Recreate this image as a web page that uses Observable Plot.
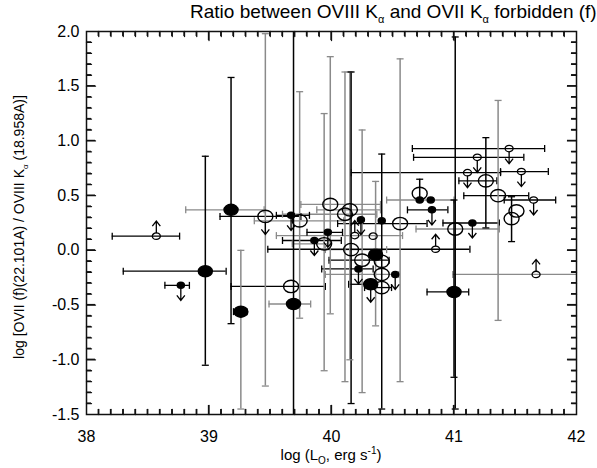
<!DOCTYPE html>
<html><head><meta charset="utf-8">
<script src="https://cdn.jsdelivr.net/npm/d3@7"></script>
<script src="https://cdn.jsdelivr.net/npm/@observablehq/plot@0.6"></script>
<style>
body{margin:0;background:#fff;font-family:"Liberation Sans",Arial,sans-serif;}
#wrap{position:relative;width:597px;height:468px;}
#title{position:absolute;top:1px;left:190px;text-align:left;font-size:19px;line-height:22px;white-space:nowrap;}
#title sub{font-size:11px;line-height:0;}
#ylab{position:absolute;left:19px;top:227px;transform:translate(-50%,-50%) rotate(-90deg);font-size:14px;white-space:nowrap;}
#ylab sub{font-size:8px;line-height:0;}
#xlab{position:absolute;left:331px;top:446px;transform:translateX(-50%);font-size:15px;white-space:nowrap;}
#xlab sub,#xlab sup{font-size:10px;line-height:0;}
</style></head><body>
<div id="wrap">
<div id="chart"></div>
<div id="title">Ratio between OVIII K<sub>α</sub> and OVII K<sub>α</sub> forbidden (f)</div>
<div id="ylab">log [OVII (f)(22.101A) / OVIII K<sub>α</sub> (18.958A)]</div>
<div id="xlab">log (L<sub>O</sub>, erg s<sup>-1</sup>)</div>
</div>
<script>
// x = log L_O, y = log ratio
const xs   = [38.57,39.18,38.97,38.77,39.26,39.46,39.67,39.74,39.99,40.15,40.11,40.24,40.41,40.56,40.19,39.97,39.86,39.94,40.34,40.16,40.25,40.36,40.41,40.22,40.41,40.41,40.52,40.32,39.67,39.69,41.00,40.85,41.67,41.45,41.19,41.11,41.55,41.65,41.26,41.36,41.51,41.47,40.72,40.72,40.81,40.82,41.15,41.01];
const ys   = [0.13,0.37,-0.19,-0.32,-0.56,0.31,0.32,0.27,0.42,0.37,0.33,0.28,0.27,0.245,0.135,0.165,0.09,0.06,0.13,0.007,-0.09,-0.04,-0.10,-0.17,-0.22,-0.34,-0.22,-0.31,-0.33,-0.49,-0.38,0.01,-0.22,0.93,0.85,0.71,0.72,0.46,0.635,0.50,0.36,0.29,0.52,0.46,0.46,0.37,0.25,0.195];
// O big open, F big filled, o small open, f small filled
const kinds = ["o","F","F","f","F","O","f","O","O","O","O","f","f","O","o","f","f","O","o","O","O","F","O","f","O","O","f","F","O","F","F","o","o","o","o","o","o","o","O","O","O","O","O","f","f","f","f","O"];
// limit arrows: u = lower limit (arrow up), d = upper limit (arrow down)
const limits = ["u","","","d","","d","d","","","","","d","","","u","d","d","","","","","","","d","","","d","d","","","","u","u","d","d","d","d","d","","","","","","","","d","d",""];
const xLo = [38.21,38.81,38.30,38.64,39.20,39.09,39.55,39.37,39.75,39.88,39.60,null,null,40.05,39.55,39.80,39.60,39.68,null,39.95,39.98,null,null,39.92,39.95,40.27,null,40.14,39.18,39.49,40.78,39.48,40.99,40.66,40.67,40.16,41.38,41.41,41.04,41.08,null,null,null,40.45,null,40.62,40.91,40.69];
const xHi = [38.76,39.45,39.14,38.84,39.31,39.75,39.82,40.10,40.40,40.40,40.37,null,null,40.78,40.58,40.09,40.08,39.97,null,40.45,40.47,null,null,40.34,40.55,40.49,null,40.35,39.95,39.83,41.12,41.13,42.30,41.74,41.57,41.38,41.77,41.83,41.35,41.61,null,null,null,41.00,null,40.95,41.37,41.37];
const hCol = ["k","g","k","k","k","k","k","g","g","g","g","k","k","k","g","k","k","g","k","g","k","k","k","k","g","k","k","k","k","g","k","k","g","k","k","k","k","k","k","k","k","k","k","g","k","k","k","g"];
const yLo = [null,-0.67,-1.05,null,-1.45,-1.24,null,-0.62,-0.58,-1.00,-1.20,null,null,-1.20,null,null,null,-1.10,null,-1.40,-1.30,-0.69,-1.45,null,null,null,null,null,null,-1.70,-1.16,null,null,null,null,null,null,null,0.205,-0.64,null,0.08,0.45,null,null,null,null,-1.45];
const yHi = [null,1.58,0.86,null,0.00,1.98,null,1.45,1.77,1.63,1.63,null,null,1.75,null,null,null,1.25,null,1.63,1.10,0.63,0.88,null,null,null,null,null,null,2.10,0.46,null,null,null,null,null,null,null,1.03,1.37,null,0.49,0.65,null,null,null,null,1.95];
const vCol = ["k","k","k","k","g","g","k","g","g","g","g","k","k","g","k","k","k","g","k","k","g","g","k","k","k","k","k","k","g","k","k","k","k","k","k","k","k","k","k","g","k","k","k","k","k","k","k","k"];
const xTicks = [38,39,40,41,42];
const yTicks = [-1.5,-1.0,-0.5,0.0,0.5,1.0,1.5,2.0];

const X0=38, X1=42, Y0=-1.5, Y1=2.0;
const pts = xs.map((x,i)=>({x, y:ys[i], kind:kinds[i], lim:limits[i], xlo:xLo[i], xhi:xHi[i], hc:hCol[i], ylo:yLo[i], yhi:yHi[i], vc:vCol[i]}));
const col = c => c==="g" ? "#8a8a8a" : "#000";
const inX = v => v>=X0 && v<=X1, inY = v => v>=Y0 && v<=Y1;
const hb = pts.filter(d=>d.xlo!=null).map(d=>({...d, a:Math.max(X0,d.xlo), b:Math.min(X1,d.xhi)}));
const vb = pts.filter(d=>d.ylo!=null).map(d=>({...d, a:Math.max(Y0,d.ylo), b:Math.min(Y1,d.yhi)}));
const hCaps = hb.flatMap(d=>[{x:d.xlo,y:d.y,c:d.hc},{x:d.xhi,y:d.y,c:d.hc}]).filter(d=>inX(d.x));
const vCaps = vb.flatMap(d=>[{x:d.x,y:d.ylo,c:d.vc},{x:d.x,y:d.yhi,c:d.vc}]).filter(d=>inY(d.y));

function ell(rx, ry){ const k=0.5523; return {draw(c){ c.moveTo(rx,0); c.bezierCurveTo(rx,ry*k,rx*k,ry,0,ry); c.bezierCurveTo(-rx*k,ry,-rx,ry*k,-rx,0); c.bezierCurveTo(-rx,-ry*k,-rx*k,-ry,0,-ry); c.bezierCurveTo(rx*k,-ry,rx,-ry*k,rx,0); c.closePath(); }}; }
function arrow(s0, s1){ const d = s1>0?1:-1; return {draw(c){ c.moveTo(0,s0); c.lineTo(0,s1); c.moveTo(-4,s1-5*d); c.lineTo(0,s1); c.lineTo(4,s1-5*d); }}; }
const capV = {draw(c){ c.moveTo(0,-3.5); c.lineTo(0,3.5); }};
const capH = {draw(c){ c.moveTo(-3.5,0); c.lineTo(3.5,0); }};

// inward ticks on all four sides (minor every 0.1, major at labelled values); lengths in px
const tickRows = [];
for (let i=381;i<420;i++){ const v=i/10, L=(i%10===0?9:5);
  tickRows.push({side:"b",v,L},{side:"t",v,L}); }
for (let i=-14;i<20;i++){ const v=i/10, L=(i%5===0?9:5);
  tickRows.push({side:"l",v,L},{side:"r",v,L}); }

const ofKind = k => pts.filter(d=>d.kind===k);
const marks = [
  Plot.ruleY(hb, {y:"y", x1:"a", x2:"b", stroke:d=>col(d.hc), strokeWidth:1.3}),
  Plot.dot(hCaps, {x:"x", y:"y", symbol:capV, stroke:d=>col(d.c), strokeWidth:1.3}),
  Plot.ruleX(vb, {x:"x", y1:"a", y2:"b", stroke:d=>col(d.vc), strokeWidth:1.5}),
  Plot.dot(vCaps, {x:"x", y:"y", symbol:capH, stroke:d=>col(d.c), strokeWidth:1.3}),
  Plot.dot(pts.filter(d=>d.lim==="d" && (d.kind==="o"||d.kind==="f")), {x:"x", y:"y", symbol:arrow(3,15), fill:"none", stroke:"#000", strokeWidth:1.3}),
  Plot.dot(pts.filter(d=>d.lim==="u" && (d.kind==="o"||d.kind==="f")), {x:"x", y:"y", symbol:arrow(-3,-15), fill:"none", stroke:"#000", strokeWidth:1.3}),
  Plot.dot(pts.filter(d=>d.lim==="d" && (d.kind==="O"||d.kind==="F")), {x:"x", y:"y", symbol:arrow(5,18), fill:"none", stroke:"#000", strokeWidth:1.3}),
  Plot.dot(ofKind("O"), {x:"x", y:"y", symbol:ell(7.5,6.2), fill:"none", stroke:"#000", strokeWidth:1.4}),
  Plot.dot(ofKind("F"), {x:"x", y:"y", symbol:ell(7,5.5), fill:"#000", stroke:"#000"}),
  Plot.dot(ofKind("o"), {x:"x", y:"y", symbol:ell(4,3.2), fill:"none", stroke:"#000", strokeWidth:1.3}),
  Plot.dot(ofKind("f"), {x:"x", y:"y", symbol:ell(3.5,3), fill:"#000", stroke:"#000"}),
  Plot.frame({stroke:"#111", strokeWidth:1.5}),
  Plot.axisX(xTicks, {anchor:"bottom", tickSize:0, tickPadding:16, fontSize:16, tickFormat:d=>String(d), label:null}),
  Plot.axisY(yTicks, {anchor:"left", tickSize:0, tickPadding:7, fontSize:16, tickFormat:d=>d.toFixed(1), label:null}),
  // ticks as short vectors anchored on the frame, pointing inward
  Plot.vector(tickRows, {
    x:d=>d.side==="l"?X0:d.side==="r"?X1:d.v,
    y:d=>d.side==="b"?Y0:d.side==="t"?Y1:d.v,
    length:"L", rotate:d=>({b:0,t:180,l:90,r:270})[d.side], anchor:"start",
    shape:{draw(c,l){ c.moveTo(0,0); c.lineTo(0,-l); }},
    stroke:"#111", strokeWidth:1.3
  })
];

const chart = Plot.plot({
  width:597, height:468,
  marginLeft:86, marginRight:21, marginTop:31, marginBottom:54,
  x:{domain:[X0,X1]}, y:{domain:[Y0,Y1]},
  length:{type:"identity"},
  style:{fontFamily:"Liberation Sans, Arial, sans-serif"},
  marks
});
// same ticks once more, placed through Plot's own scales (in case the mark above is not painted)
const sx = chart.scale("x"), sy = chart.scale("y");
const g = d3.select(chart).append("g").attr("stroke","#111").attr("stroke-width",1.3);
g.selectAll("line").data(tickRows).join("line")
  .attr("x1", d=>sx.apply(d.side==="l"?X0:d.side==="r"?X1:d.v))
  .attr("y1", d=>sy.apply(d.side==="b"?Y0:d.side==="t"?Y1:d.v))
  .attr("x2", d=>sx.apply(d.side==="l"?X0:d.side==="r"?X1:d.v) + (d.side==="l"?d.L:d.side==="r"?-d.L:0))
  .attr("y2", d=>sy.apply(d.side==="b"?Y0:d.side==="t"?Y1:d.v) + (d.side==="b"?-d.L:d.side==="t"?d.L:0));
document.getElementById("chart").appendChild(chart);
</script>
</body></html>
